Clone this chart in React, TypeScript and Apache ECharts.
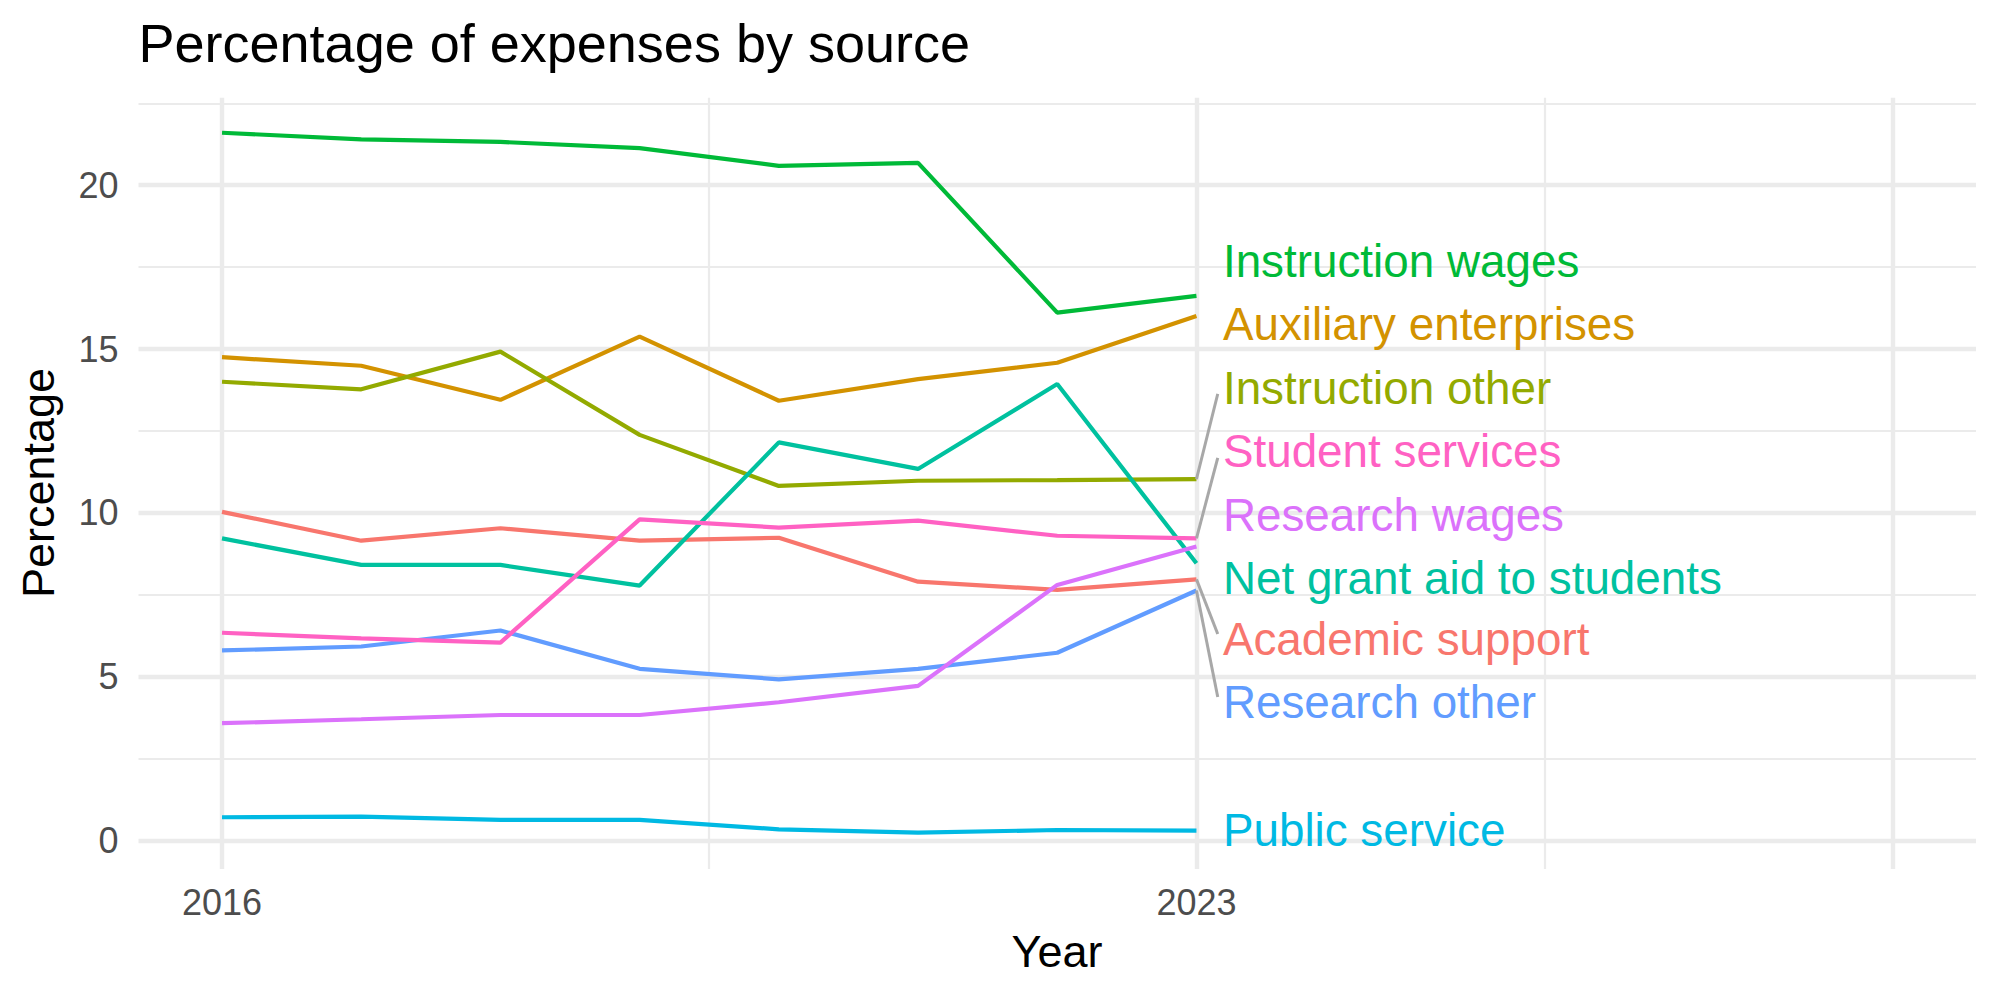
import React, { useEffect, useRef } from "react";
import * as echarts from "echarts";

// Share of total expenses (%) by source, 2016-2023
const years = [2016, 2017, 2018, 2019, 2020, 2021, 2022, 2023];

const academicSupport = [10.03, 9.15, 9.53, 9.15, 9.24, 7.9, 7.65, 7.97];
const auxiliaryEnterprises = [14.75, 14.49, 13.45, 15.38, 13.42, 14.08, 14.58, 16.01];
const instructionOther = [14.0, 13.77, 14.92, 12.38, 10.82, 10.98, 11.0, 11.03];
const instructionWages = [21.6, 21.4, 21.32, 21.13, 20.59, 20.68, 16.11, 16.62];
const netGrantAid = [9.22, 8.41, 8.41, 7.78, 12.15, 11.34, 13.93, 8.46];
const publicService = [0.71, 0.73, 0.63, 0.63, 0.34, 0.24, 0.32, 0.3];
const researchOther = [5.8, 5.92, 6.41, 5.24, 4.92, 5.24, 5.73, 7.63];
const researchWages = [3.58, 3.7, 3.83, 3.83, 4.22, 4.72, 7.8, 8.97];
const studentServices = [6.34, 6.17, 6.04, 9.8, 9.55, 9.76, 9.3, 9.22];

const seriesNames = [
  "Academic support",
  "Auxiliary enterprises",
  "Instruction other",
  "Instruction wages",
  "Net grant aid to students",
  "Public service",
  "Research other",
  "Research wages",
  "Student services",
];
const seriesValues = [
  academicSupport,
  auxiliaryEnterprises,
  instructionOther,
  instructionWages,
  netGrantAid,
  publicService,
  researchOther,
  researchWages,
  studentServices,
];
const seriesColors = [
  "#F8766D",
  "#D39200",
  "#93AA00",
  "#00BA38",
  "#00C19F",
  "#00B9E3",
  "#619CFF",
  "#DB72FB",
  "#FF61C3",
];

// Repelled label positions (y, in percent) next to the last year
const labelY = [6.12, 15.74, 13.81, 17.66, 8.01, 0.3, 4.2, 9.91, 11.86];
const labelX = 2023.19;
// Labels that were pushed far enough to get a connector segment
const segmentNames = ["Instruction other", "Student services", "Academic support", "Research other"];
const segmentEndX = 2023.153;

const xTickLabels = [2016, 2023];
const yTickLabels = [0, 5, 10, 15, 20];
const xMajorGrid = [2016, 2023, 2028];
const xMinorGrid = [2019.5, 2025.5];
const yMajorGrid = [0, 5, 10, 15, 20];
const yMinorGrid = [2.5, 7.5, 12.5, 17.5, 22.5];

const FONT = "Liberation Sans";

export default function App() {
  const ref = useRef<HTMLDivElement>(null);

  useEffect(() => {
    if (!ref.current) return;
    const chart = echarts.init(ref.current, undefined, { renderer: "svg" });

    const lineSeries = seriesNames.map((name, i) => ({
      name,
      type: "line",
      data: years.map((y, j) => [y, seriesValues[i][j]]),
      showSymbol: false,
      symbol: "none",
      silent: true,
      z: 2,
      lineStyle: { color: seriesColors[i], width: 4.2 },
      itemStyle: { color: seriesColors[i] },
      emphasis: { disabled: true },
    }));

    const segmentSeries = segmentNames.map((name) => {
      const i = seriesNames.indexOf(name);
      const last = seriesValues[i][seriesValues[i].length - 1];
      const ly = labelY[i];
      const endY = ly > last ? ly - 0.18 : ly + 0.18;
      return {
        name: name + " segment",
        type: "line",
        data: [
          [years[years.length - 1], last],
          [segmentEndX, endY],
        ],
        showSymbol: false,
        symbol: "none",
        silent: true,
        z: 3,
        lineStyle: { color: "#A8A8A8", width: 3 },
        emphasis: { disabled: true },
      };
    });

    const gridLineStyle = { color: "#EBEBEB", type: "solid" };
    const gridSeries = {
      name: "grid",
      type: "line",
      data: [],
      silent: true,
      z: 0,
      markLine: {
        z: 0,
        silent: true,
        symbol: ["none", "none"],
        label: { show: false },
        emphasis: { disabled: true },
        animation: false,
        lineStyle: gridLineStyle,
        data: [
          ...xMinorGrid.map((v) => ({ xAxis: v, lineStyle: { ...gridLineStyle, width: 2.2 } })),
          ...yMinorGrid.map((v) => ({ yAxis: v, lineStyle: { ...gridLineStyle, width: 2.2 } })),
          ...xMajorGrid.map((v) => ({ xAxis: v, lineStyle: { ...gridLineStyle, width: 4.4 } })),
          ...yMajorGrid.map((v) => ({ yAxis: v, lineStyle: { ...gridLineStyle, width: 4.4 } })),
        ],
      },
    };

    const labelSeries = {
      name: "labels",
      type: "scatter",
      symbolSize: 0,
      silent: true,
      z: 4,
      itemStyle: { opacity: 1 },
      emphasis: { disabled: true },
      data: seriesNames.map((name, i) => ({
        name,
        value: [labelX, labelY[i]],
        label: { color: seriesColors[i] },
      })),
      label: {
        show: true,
        position: "right",
        distance: 0,
        formatter: "{b}",
        fontSize: 45.8,
        lineHeight: 46,
        fontFamily: FONT,
        opacity: 1,
        align: "left",
        verticalAlign: "middle",
      },
    };

    const option = {
      animation: false,
      backgroundColor: "#FFFFFF",
      textStyle: { fontFamily: FONT },
      title: {
        text: "Percentage of expenses by source",
        left: 138.5,
        top: 16.4,
        padding: 0,
        textStyle: {
          fontSize: 54,
          lineHeight: 54,
          fontWeight: "normal",
          color: "#000000",
          fontFamily: FONT,
        },
      },
      grid: { left: 138.5, right: 24, top: 97.7, bottom: 131, containLabel: false },
      xAxis: {
        type: "value",
        min: 2015.4,
        max: 2028.6,
        axisLine: { show: false },
        axisTick: { show: false },
        splitLine: { show: false },
        axisLabel: {
          customValues: xTickLabels,
          formatter: (v: number) => String(v),
          fontSize: 36,
          lineHeight: 36,
          color: "#4D4D4D",
          fontFamily: FONT,
          margin: 15,
        },
      },
      yAxis: {
        type: "value",
        min: -0.87,
        max: 22.67,
        axisLine: { show: false },
        axisTick: { show: false },
        splitLine: { show: false },
        axisLabel: {
          customValues: yTickLabels,
          formatter: (v: number) => String(v),
          fontSize: 36,
          lineHeight: 36,
          color: "#4D4D4D",
          fontFamily: FONT,
          margin: 20,
        },
      },
      graphic: [
        {
          type: "text",
          x: 1057,
          y: 951,
          silent: true,
          style: {
            text: "Year",
            fill: "#000000",
            fontSize: 45,
            fontFamily: FONT,
            align: "center",
            verticalAlign: "middle",
            textAlign: "center",
            textVerticalAlign: "middle",
          },
        },
        {
          type: "text",
          x: 38.5,
          y: 483,
          rotation: Math.PI / 2,
          silent: true,
          style: {
            text: "Percentage",
            fill: "#000000",
            fontSize: 45,
            fontFamily: FONT,
            align: "center",
            verticalAlign: "middle",
            textAlign: "center",
            textVerticalAlign: "middle",
          },
        },
      ],
      series: [gridSeries, ...lineSeries, ...segmentSeries, labelSeries],
    };

    chart.setOption(option as any);
    return () => chart.dispose();
  }, []);

  return (
    <div
      ref={ref}
      style={{ position: "absolute", left: 0, top: 0, width: 2000, height: 1000 }}
    />
  );
}
